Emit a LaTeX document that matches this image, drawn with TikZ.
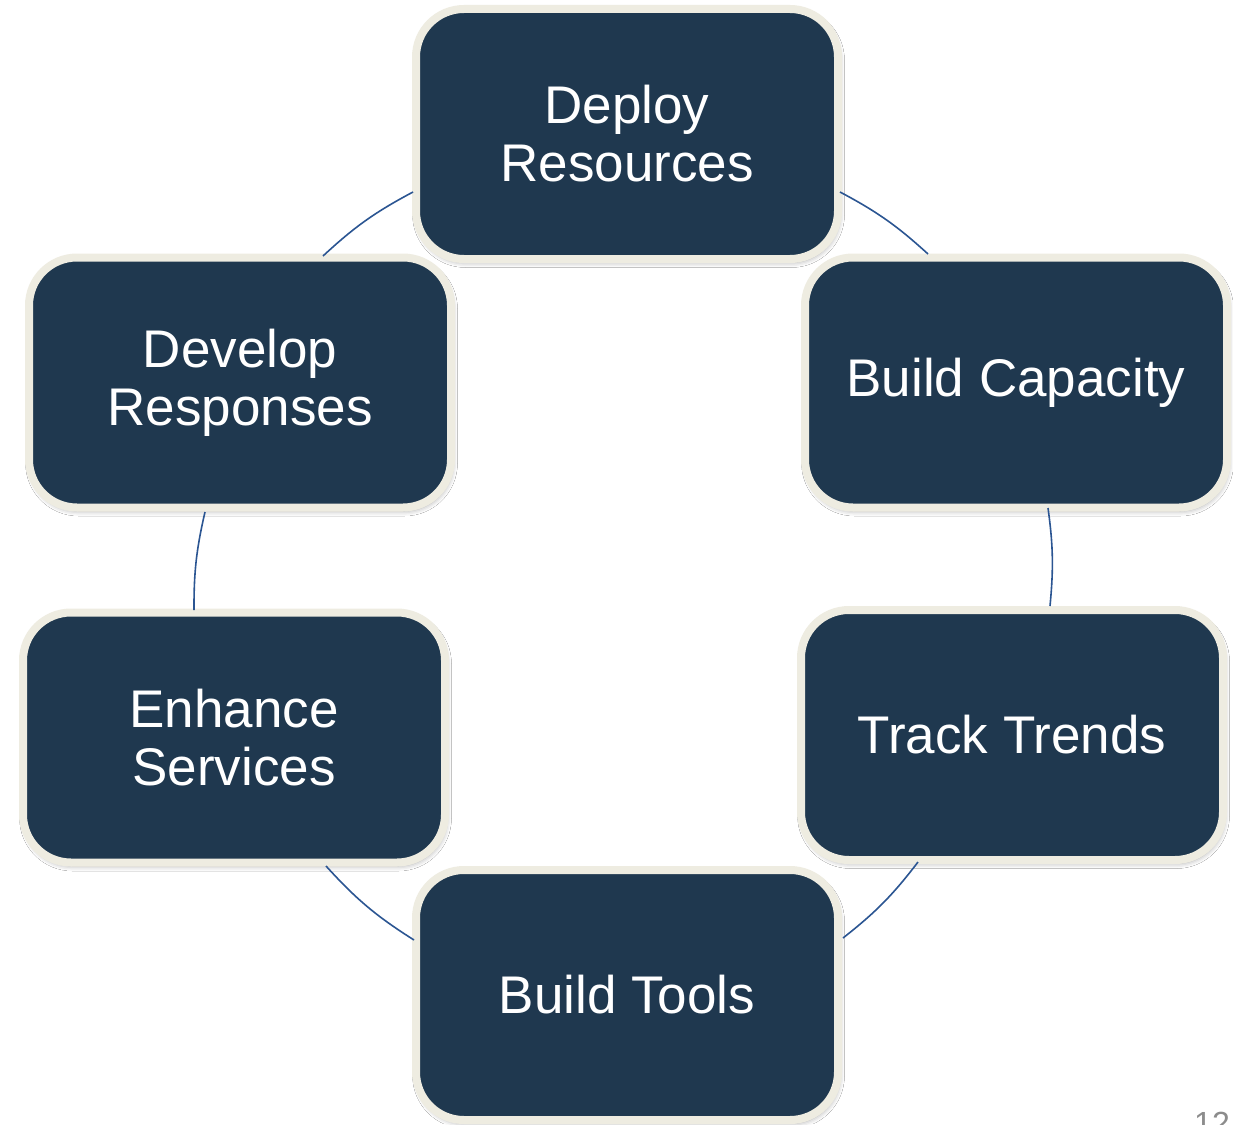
\documentclass[tikz,border=0pt]{standalone}
\usepackage{fontspec}
\setmainfont{Liberation Sans}
\usetikzlibrary{shadows.blur}
\definecolor{boxfill}{HTML}{1F384F}
\definecolor{boxrim}{HTML}{EEECE1}
\definecolor{linkblue}{HTML}{2B5592}
\definecolor{numgray}{HTML}{8C8C8C}
\tikzset{
  stagebox/.style={draw=boxrim, fill=boxfill, line width=8pt, rounded corners=48pt,
    minimum width=422pt, minimum height=250pt, inner sep=0pt, align=center,
    text=white, font=\fontsize{53}{58}\selectfont,
    blur shadow={shadow xshift=1.5pt, shadow yshift=-3.5pt, shadow blur radius=5pt, shadow opacity=35}},
  link/.style={draw=linkblue, line width=1.6pt},
}
\begin{document}
\begin{tikzpicture}[x=1pt,y=1pt]
\useasboundingbox (0,0) rectangle (1233,-1124);
\fill[white] (0,0) rectangle (1233,-1124);
% boxes
\node[stagebox] (deploy)   at (627,-134)   {Deploy\\Resources};
\node[stagebox] (capacity) at (1016,-382.5) {Build Capacity};
\node[stagebox] (trends)   at (1012,-735)  {Track Trends};
\node[stagebox] (tools)    at (627,-995)   {Build Tools};
\node[stagebox] (enhance)  at (234,-737.5) {Enhance\\Services};
\node[stagebox] (develop)  at (240,-382.5) {Develop\\Responses};
% connector end points on the box rims
\coordinate (l1a) at (323,-256);  \coordinate (l1b) at (413,-192);
\coordinate (l2a) at (840,-192);  \coordinate (l2b) at (928,-254);
\coordinate (l3a) at (1048,-508); \coordinate (l3b) at (1050,-606);
\coordinate (l4a) at (918,-862);  \coordinate (l4b) at (843,-938);
\coordinate (l5a) at (414,-940);  \coordinate (l5b) at (326,-866);
\coordinate (l6a) at (194,-610);  \coordinate (l6b) at (205,-512);
\draw[link] (l1a) to[bend left=7.4] (l1b);
\draw[link] (l2a) to[bend left=7.2] (l2b);
\draw[link] (l3a) to[bend left=6.6] (l3b);
\draw[link] (l4a) to[bend left=7.2] (l4b);
\draw[link] (l5a) to[bend left=7.7] (l5b);
\draw[link] (l6a) to[bend left=6.6] (l6b);
% slide number, cut by the page edge
\node[anchor=north, text=numgray, font=\fontsize{32}{32}\selectfont, inner sep=0pt] (pagenum) at (1212,-1112) {12};
\end{tikzpicture}
\end{document}
